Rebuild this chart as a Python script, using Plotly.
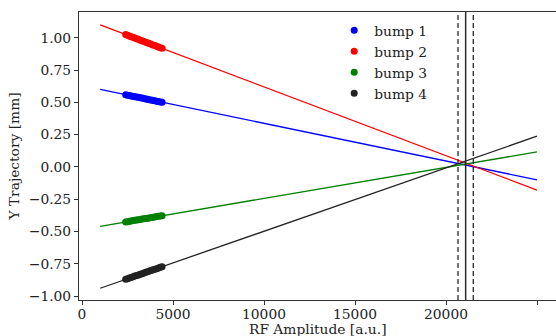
import plotly.graph_objects as go

rf_amp = [2400, 2500, 2600, 2700, 2800, 2900, 3000, 3100, 3200, 3300, 3400,
          3500, 3600, 3700, 3800, 3900, 4000, 4100, 4200, 4300, 4400]

bump1 = [0.559, 0.556, 0.553, 0.550, 0.547, 0.544, 0.542, 0.539, 0.536, 0.533, 0.530,
         0.527, 0.524, 0.521, 0.518, 0.515, 0.512, 0.509, 0.506, 0.503, 0.500]
bump2 = [1.025, 1.020, 1.014, 1.009, 1.004, 0.998, 0.993, 0.988, 0.982, 0.977, 0.972,
         0.966, 0.961, 0.956, 0.950, 0.945, 0.940, 0.934, 0.929, 0.924, 0.919]
bump3 = [-0.426, -0.424, -0.421, -0.419, -0.416, -0.414, -0.412, -0.409, -0.407, -0.404, -0.402,
         -0.400, -0.397, -0.395, -0.392, -0.390, -0.388, -0.385, -0.383, -0.380, -0.378]
bump4 = [-0.871, -0.866, -0.861, -0.856, -0.851, -0.846, -0.842, -0.837, -0.832, -0.827, -0.822,
         -0.817, -0.812, -0.807, -0.802, -0.797, -0.793, -0.788, -0.783, -0.778, -0.773]
y_err = 0.006

fit_x = [1000, 25000]
fit1 = [0.600, -0.100]
fit2 = [1.100, -0.180]
fit3 = [-0.460, 0.116]
fit4 = [-0.940, 0.238]

vline_center = 21080
vline_bounds = [20660, 21500]

names = ["bump 1", "bump 2", "bump 3", "bump 4"]
colors = ["#0000ff", "#ff0000", "#008000", "#222222"]
data = [bump1, bump2, bump3, bump4]
fits = [fit1, fit2, fit3, fit4]

fig = go.Figure()
for name, c, ys, fy in zip(names, colors, data, fits):
    fig.add_trace(go.Scatter(x=fit_x, y=fy, mode="lines", line=dict(color=c, width=1.3),
                             showlegend=False, hoverinfo="skip"))
for name, c, ys in zip(names, colors, data):
    fig.add_trace(go.Scatter(x=rf_amp, y=ys, mode="markers", name=name,
                             marker=dict(color=c, size=7),
                             error_y=dict(type="constant", value=y_err, color=c, thickness=1.2, width=0)))

fig.add_vline(x=vline_center, line=dict(color="#2a2a2a", width=1.5))
for xb in vline_bounds:
    fig.add_vline(x=xb, line=dict(color="#2a2a2a", width=1.3, dash="5px,3px"))

font = "DejaVu Serif, serif"
fig.add_annotation(text="RF Amplitude [a.u.]", xref="paper", yref="paper", x=0.5, y=0,
                   xanchor="center", yanchor="middle", yshift=-29, showarrow=False,
                   font=dict(family=font, size=13.8, color="#222222"))
fig.update_layout(
    width=556, height=336,
    margin=dict(l=79, r=0, t=12, b=36),
    paper_bgcolor="white", plot_bgcolor="white",
    font=dict(family=font, size=13.8, color="#222222"),
    legend=dict(x=0.535, y=0.99, xanchor="left", yanchor="top", bgcolor="rgba(0,0,0,0)",
                font=dict(size=13.8), itemwidth=30, tracegroupgap=0),
    xaxis=dict(range=[-165, 26044], tickvals=[0, 5000, 10000, 15000, 20000, 25000],
               ticktext=["0", "5000", "10000", "15000", "20000", "25000"],
               showgrid=False, zeroline=False, showline=True, linecolor="#333333", linewidth=1.2,
               mirror=True, ticks="outside", ticklen=4, tickcolor="#333333",
               ticklabelstandoff=-3),
    yaxis=dict(range=[-1.031, 1.2], tickvals=[-1.0, -0.75, -0.5, -0.25, 0, 0.25, 0.5, 0.75, 1.0],
               ticktext=["\u22121.00", "\u22120.75", "\u22120.50", "\u22120.25", "0.00", "0.25", "0.50", "0.75", "1.00"],
               showgrid=False, zeroline=False, showline=True, linecolor="#333333", linewidth=1.2,
               ticks="outside", ticklen=4, tickcolor="#333333",
               title=dict(text="Y Trajectory [mm]", standoff=6, font=dict(size=13.8))),
)

fig.write_html("out.html", config={"displayModeBar": False},
               post_script="document.body.style.margin='0';")
